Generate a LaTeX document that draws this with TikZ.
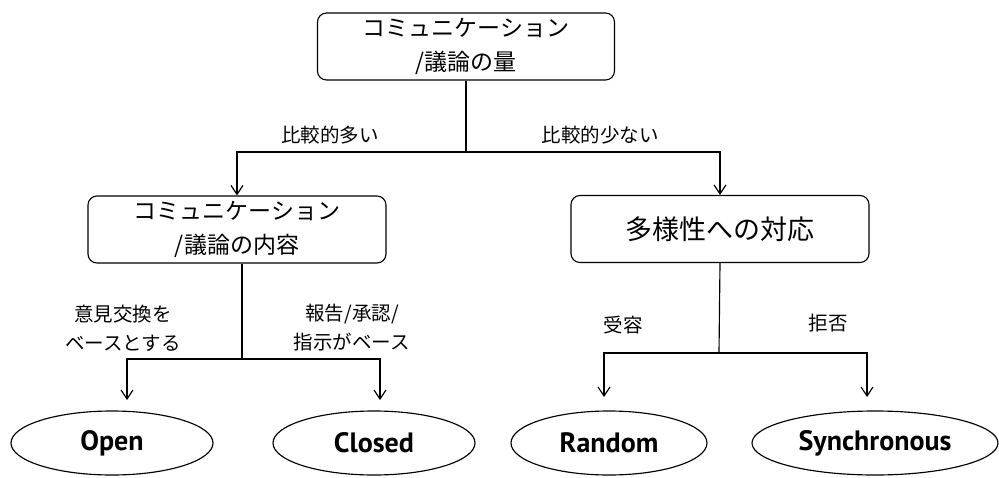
\documentclass[tikz,border=0pt]{standalone}
\usepackage{fontspec}
\newfontfamily\jp{Noto Sans CJK JP}
\newfontfamily\en{PT Sans}
\usetikzlibrary{arrows.meta,shapes.geometric}
\begin{document}
\begin{tikzpicture}[x=1pt,y=-1pt,
  line width=1.15pt,
  box/.style={draw,rounded corners=9pt,minimum height=67pt,align=center,inner sep=0pt,font=\jp\fontsize{23}{34}\selectfont},
  oval/.style={draw,ellipse,minimum width=200pt,minimum height=64pt,inner sep=0pt,font=\en\bfseries\fontsize{28}{30}\selectfont},
  lbl/.style={font=\jp\fontsize{19.5}{29}\selectfont,align=center},
  arr/.style={-{Straight Barb[length=9pt,width=12pt,line width=1.15pt]}}
]
\useasboundingbox (0,0) rectangle (999,477);
\node[box,minimum width=297pt] (top) at (466,46.5) {コミュニケーション\\/議論の量};
\node[box,minimum width=298pt] (cont) at (237,229.5) {コミュニケーション\\/議論の内容};
\node[box,minimum width=298pt,font=\jp\fontsize{27}{31}\selectfont] (div) at (720,229) {多様性への対応};
\node[oval,minimum width=202pt] (open) at (112,443) {Open};
\node[oval,minimum width=202pt] (closed) at (374,443) {Closed};
\node[oval,minimum width=196pt] (random) at (609,443) {Random};
\node[oval,minimum width=246pt] (sync) at (875,443) {Synchronous};
\coordinate (j1) at (466,152);
\coordinate (j2) at (242,359);
\coordinate (j3) at (719,353);
\draw (top.south) -- (j1);
\draw[arr] (j1) -| (cont.north);
\draw[arr] (j1) -| (div.north);
\draw (cont.south -| j2) -- (j2);
\draw[arr] (j2) -| (127,400);
\draw[arr] (j2) -| (380,400);
\draw (div.south) -- (j3);
\draw[arr] (j3) -| (604,397);
\draw[arr] (j3) -| (867,397);
\node[lbl] (l1) at (330,135) {比較的多い};
\node[lbl] (l2) at (600,135) {比較的少ない};
\node[lbl] (l3) at (123,328) {意見交換を\\ベースとする};
\node[lbl] (l4) at (352,328) {報告/承認/\\指示がベース};
\node[lbl] (l5) at (623,325) {受容};
\node[lbl] (l6) at (828,323) {拒否};
\end{tikzpicture}
\end{document}
